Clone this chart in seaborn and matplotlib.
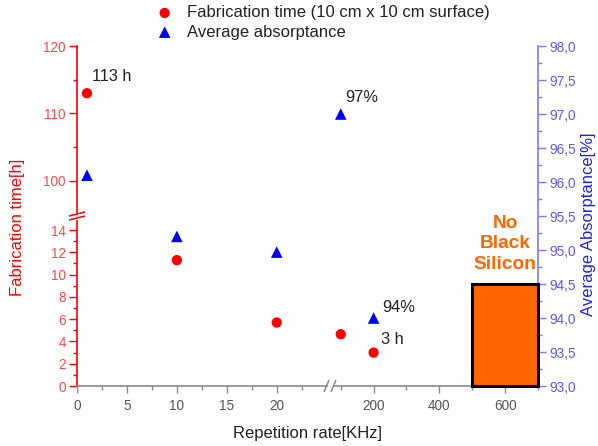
import numpy as np
import matplotlib
matplotlib.use("Agg")
import matplotlib.pyplot as plt
import seaborn as sns
from matplotlib.ticker import FixedLocator, FuncFormatter, NullFormatter

# ---- data -------------------------------------------------------------
rep_rate = [1, 10, 20, 100, 200]                 # repetition rate [kHz]
fab_time = [113, 11.3, 5.7, 4.65, 3]             # fabrication time [h]
absorptance = [96.1, 95.2, 94.97, 97, 94]        # average absorptance [%]

fab_label_idx = [0, 4]
abs_label_idx = [3, 4]

no_bs_range = [500, 700]     # repetition rates without black silicon
no_bs_top = 94.5

x_major = [0, 5, 10, 15, 20, 200, 400, 600]
x_minor = [2.5, 7.5, 12.5, 17.5, 22.5, 100, 300, 500, 700]
y_major = [0, 2, 4, 6, 8, 10, 12, 14, 100, 110, 120]
y_minor = [1, 3, 5, 7, 9, 11, 13, 105, 115]
y2_major = [93.0, 93.5, 94.0, 94.5, 95.0, 95.5, 96.0, 96.5, 97.0, 97.5, 98.0]
y2_minor = [93.25, 93.75, 94.25, 94.75, 95.25, 95.75, 96.25, 96.75, 97.25, 97.75]

# ---- styling ------------------------------------------------------------
sns.set_theme(style="ticks")
plt.rcParams["font.family"] = ["Liberation Sans", "DejaVu Sans"]

RED = "#ff0000"
RED_TXT = "#ff4a4a"
BLUE = "#0000ff"
BLUE_AX = "#7a7aff"
BLUE_TXT = "#5a5aff"
ORANGE = "#ff6600"
GRAY = "#8a8a8a"


def piecewise(src, dst):
    src = np.asarray(src, float)
    dst = np.asarray(dst, float)

    def fwd(v):
        return np.interp(v, src, dst)

    def inv(v):
        return np.interp(v, dst, src)
    return fwd, inv


# broken x axis: 0-25 linear, 66-700 compressed
xb_lo, xb_hi = 25.3, 66.3
x_fwd, x_inv = piecewise(
    [-1e4, 0, xb_lo, xb_hi, 700, 1e5],
    [-1e5, 0, xb_lo * 10, xb_lo * 10 + 0.01,
     xb_lo * 10 + 0.01 + (700 - xb_hi) * 0.3292,
     xb_lo * 10 + 0.01 + (1e5 - xb_hi) * 0.3292])

# broken left y axis: 0-15 and 95-120
yb_lo, yb_hi = 15.26, 94.8
y_fwd, y_inv = piecewise(
    [-1e4, 0, yb_lo, yb_hi, 120, 1e4],
    [-1.114e5, 0, 170, 170.01, 340, 340 + (1e4 - 120) * 6.75])

fig = plt.figure(figsize=(5.98, 4.46), dpi=100)
ax = fig.add_axes([77 / 598, 60 / 446, 461 / 598, 340 / 446])
ax.set_facecolor("white")
ax.set_xscale("function", functions=(x_fwd, x_inv))
ax.set_yscale("function", functions=(y_fwd, y_inv))
ax2 = ax.twinx()

sns.scatterplot(x=rep_rate, y=fab_time, ax=ax, color=RED, marker="o",
                s=55, edgecolor="none", zorder=5,
                label="Fabrication time (10 cm x 10 cm surface)")
sns.scatterplot(x=rep_rate, y=absorptance, ax=ax2, color=BLUE, marker="^",
                s=70, edgecolor="none", zorder=5,
                label="Average absorptance")

ax.set_xlim(0, 700)
ax.set_ylim(0, 120)
ax2.set_ylim(93, 98)

# "No Black Silicon" block
ax2.bar((no_bs_range[0] + no_bs_range[1]) / 2, no_bs_top - 93, bottom=93,
        width=no_bs_range[1] - no_bs_range[0], color=ORANGE,
        edgecolor="black", linewidth=2.2, clip_on=False, zorder=3)
ax2.text((no_bs_range[0] + no_bs_range[1]) / 2, 95.09, "No\nBlack\nSilicon",
         ha="center", va="center", color=ORANGE, fontsize=13.8,
         fontweight="bold", linespacing=1.25)

# value labels
for i, (dx, dy) in zip(fab_label_idx, [(5, 17), (7, 13.5)]):
    ax.annotate(f"{fab_time[i]:g} h", (rep_rate[i], fab_time[i]),
                xytext=(dx, dy), textcoords="offset pixels",
                ha="left", va="center", fontsize=11.8, color="#222222")
for i, (dx, dy) in zip(abs_label_idx, [(5, 17), (9, 10)]):
    ax2.annotate(f"{absorptance[i]:g}%", (rep_rate[i], absorptance[i]),
                 xytext=(dx, dy), textcoords="offset pixels",
                 ha="left", va="center", fontsize=11.8, color="#222222")

# ticks
ax.xaxis.set_major_locator(FixedLocator(x_major))
ax.xaxis.set_minor_locator(FixedLocator(x_minor))
ax.xaxis.set_major_formatter(FuncFormatter(lambda v, _: f"{v:g}"))
ax.xaxis.set_minor_formatter(NullFormatter())
ax.yaxis.set_major_locator(FixedLocator(y_major))
ax.yaxis.set_minor_locator(FixedLocator(y_minor))
ax.yaxis.set_major_formatter(FuncFormatter(lambda v, _: f"{v:g}"))
ax.yaxis.set_minor_formatter(NullFormatter())
ax2.yaxis.set_major_locator(FixedLocator(y2_major))
ax2.yaxis.set_minor_locator(FixedLocator(y2_minor))
ax2.yaxis.set_major_formatter(
    FuncFormatter(lambda v, _: f"{v:.1f}".replace(".", ",")))

ax.tick_params(axis="x", which="major", length=5, width=1, color=GRAY,
               labelsize=9.8, labelcolor="#555555", pad=4)
ax.tick_params(axis="x", which="minor", length=3, width=1, color=GRAY)
ax.tick_params(axis="y", which="major", length=6, width=1, color=RED,
               labelsize=9.8, labelcolor=RED_TXT, pad=2)
ax.tick_params(axis="y", which="minor", length=3, width=1, color=RED)
ax2.tick_params(axis="y", which="major", length=6, width=1, color=BLUE_AX,
                labelsize=9.8, labelcolor=BLUE_TXT, pad=2)
ax2.tick_params(axis="y", which="minor", length=3, width=1, color=BLUE_AX)

for s in ["top", "right"]:
    ax.spines[s].set_visible(False)
for s in ["top", "left", "bottom"]:
    ax2.spines[s].set_visible(False)
ax.spines["left"].set_color(RED)
ax.spines["left"].set_linewidth(1.2)
ax.spines["bottom"].set_color(GRAY)
ax.spines["bottom"].set_linewidth(1.2)
ax2.spines["right"].set_color(BLUE_AX)
ax2.spines["right"].set_linewidth(1.2)

W, H = 461.0, 340.0
ax.set_xlabel("Repetition rate[KHz]", fontsize=12, color="#222222",
              labelpad=10)
ax.set_ylabel("Fabrication time[h]", fontsize=12, color=RED)
ax2.set_ylabel("Average Absorptance[%]", fontsize=12, color="#2020ff")
ax.yaxis.set_label_coords((25 - 77) / W, (386 - 227) / H)
ax2.yaxis.set_label_coords((581 - 77) / W, (386 - 224) / H)

# axis break marks


def break_mark(axis, xa, ya, lines, color):
    axis.add_patch(plt.Rectangle((xa - gw / W, ya - gh / H), 2 * gw / W,
                                 2 * gh / H, transform=axis.transAxes,
                                 color="white", clip_on=False, zorder=6))
    for (x0, y0, x1, y1) in lines:
        axis.plot([xa + x0 / W, xa + x1 / W], [ya + y0 / H, ya + y1 / H],
                  transform=axis.transAxes, color=color, lw=1.1,
                  clip_on=False, zorder=7, solid_capstyle="butt")


gw, gh = 2.5, 2.5
break_mark(ax, 0.0, 0.5, [(-8, -4, 8, 0), (-8, 0, 8, 4)], RED)
gw, gh = 2.5, 2.5
xbr = (xb_lo * 10) / W
break_mark(ax, xbr, 0.0, [(-6, -6, -1, 6), (1, -6, 6, 6)], GRAY)

# legend
h1, l1 = ax.get_legend_handles_labels()
h2, l2 = ax2.get_legend_handles_labels()
ax2.legend(h1 + h2, l1 + l2, loc="upper left",
           bbox_to_anchor=(148 / 598, 1 + 3 / 446),
           bbox_transform=fig.transFigure, frameon=False, fontsize=12,
           handlelength=1.0, handletextpad=0.85, labelspacing=0.25,
           borderpad=0, labelcolor="#222222")
if ax.get_legend() is not None:
    ax.get_legend().remove()

fig.savefig("out.png", dpi=100, facecolor="white")
